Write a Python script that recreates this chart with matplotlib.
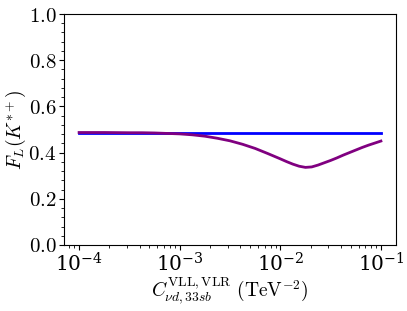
import numpy as np
import matplotlib
matplotlib.use("Agg")
import matplotlib.pyplot as plt
from matplotlib.ticker import FuncFormatter, AutoMinorLocator

plt.rcParams['mathtext.fontset'] = 'cm'
plt.rcParams['font.family'] = 'serif'
plt.rcParams['font.serif'] = ['DejaVu Serif']

# data
log_c = [-4.0, -3.75, -3.5, -3.375, -3.25, -3.125, -3.0, -2.875, -2.75, -2.625,
         -2.5, -2.375, -2.25, -2.125, -2.0, -1.9375, -1.875, -1.8125, -1.75,
         -1.6875, -1.625, -1.5625, -1.5, -1.4375, -1.375, -1.3125, -1.25,
         -1.1875, -1.125, -1.0625, -1.0]
fl_np = [0.487, 0.487, 0.486, 0.486, 0.485, 0.483, 0.481, 0.477, 0.471, 0.462,
         0.451, 0.436, 0.418, 0.396, 0.373, 0.361, 0.350, 0.341, 0.336,
         0.338, 0.346, 0.356, 0.366, 0.377, 0.389, 0.400, 0.411,
         0.422, 0.432, 0.441, 0.450]
fl_sm = 0.487

c_vals = [10.0 ** v for v in log_c]

fig = plt.figure(figsize=(4.07, 3.11), dpi=100)
ax = fig.add_axes([64/407, 1-245/311, (396-64)/407, (245-14)/311])

ax.plot(c_vals, [fl_sm] * len(c_vals), color='blue', lw=2)
ax.plot(c_vals, fl_np, color='purple', lw=2)

ax.set_xscale('log')
ax.set_ylim(0, 1)
ax.yaxis.set_minor_locator(AutoMinorLocator(5))
ax.yaxis.set_major_formatter(FuncFormatter(lambda v, p: r'$%.1f$' % v))
ax.tick_params(axis='y', labelsize=15, pad=2)
ax.tick_params(axis='x', labelsize=14.5, pad=2)
ax.set_xlabel(r'$C^{\mathrm{VLL,VLR}}_{\nu d,33sb}\ (\mathrm{TeV}^{-2})$', fontsize=14, labelpad=0)
ax.set_ylabel(r'$F_L(K^{*+})$', fontsize=14, labelpad=0)

fig.savefig('out.png', dpi=100)
